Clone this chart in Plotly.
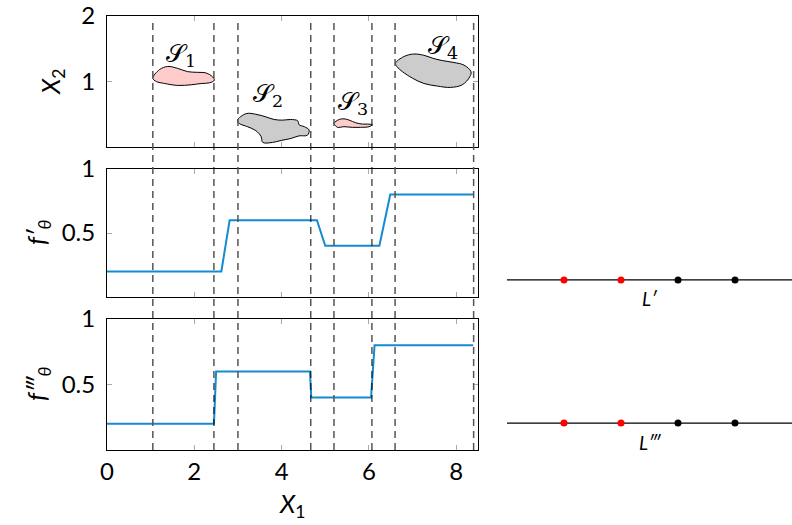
import plotly.graph_objects as go

# ---------------- data ----------------
x1_ticks = [0, 2, 4, 6, 8]
x2_ticks = [1, 2]
f_ticks = [0.5, 1]

# region boundaries (dashed lines)
bounds_gray = [1.05, 3.0, 5.2, 6.6, 8.4]
bounds_black = [2.45, 4.67, 6.07]

# blob outlines (X1, X2)
s1_x = [1.05, 1.20, 1.39, 1.62, 1.85, 2.08, 2.27, 2.42, 2.46, 2.35, 2.16, 1.93, 1.62, 1.32, 1.13]
s1_y = [1.05, 1.18, 1.23, 1.20, 1.15, 1.14, 1.13, 1.07, 1.02, 0.98, 0.97, 0.95, 0.94, 0.97, 1.00]
s2_x = [2.99, 3.19, 3.41, 3.64, 3.83, 4.02, 4.21, 4.37, 4.40, 4.52, 4.63, 4.59, 4.40, 4.21, 3.99, 3.79, 3.57, 3.53, 3.41, 3.22, 3.03]
s2_y = [0.41, 0.51, 0.50, 0.46, 0.42, 0.41, 0.42, 0.40, 0.34, 0.31, 0.26, 0.18, 0.17, 0.13, 0.10, 0.07, 0.07, 0.16, 0.25, 0.31, 0.36]
s3_x = [5.20, 5.32, 5.43, 5.55, 5.70, 5.85, 5.97, 6.08, 6.00, 5.81, 5.62, 5.43, 5.28, 5.23]
s3_y = [0.36, 0.42, 0.43, 0.41, 0.37, 0.35, 0.35, 0.34, 0.31, 0.30, 0.30, 0.31, 0.30, 0.33]
s4_x = [6.61, 6.80, 7.03, 7.26, 7.49, 7.68, 7.95, 8.18, 8.34, 8.31, 8.14, 7.87, 7.57, 7.26, 7.00, 6.77, 6.64]
s4_y = [1.28, 1.38, 1.42, 1.40, 1.35, 1.32, 1.29, 1.25, 1.15, 1.07, 0.95, 0.91, 0.93, 0.97, 1.05, 1.15, 1.23]
blob_colors = ["#ffcccc", "#cccccc", "#ffcccc", "#cccccc"]
blob_labels = ["1", "2", "3", "4"]
label_x = [1.70, 3.69, 5.63, 7.69]
label_y = [1.40, 0.79, 0.67, 1.53]

# step functions
fp_x = [0, 2.62, 2.81, 4.81, 5.00, 6.24, 6.49, 8.39]
fp_y = [0.2, 0.2, 0.6, 0.6, 0.4, 0.4, 0.8, 0.8]
fppp_x = [0, 2.45, 2.50, 4.65, 4.68, 6.05, 6.13, 8.39]
fppp_y = [0.2, 0.2, 0.6, 0.6, 0.4, 0.4, 0.8, 0.8]

# right side orderings
order_pos = [1, 2, 3, 4]
order_colors = ["red", "red", "black", "black"]
row_y = [1, 0]
row_labels = ["L′", "L‴"]
line_span = [0, 5]

# ---------------- figure ----------------
FONT = "Lato"
BLUE = "rgb(22,138,208)"
fig = go.Figure()

blobs = [(s1_x, s1_y), (s2_x, s2_y), (s3_x, s3_y), (s4_x, s4_y)]
for (bx, by), col in zip(blobs, blob_colors):
    fig.add_trace(go.Scatter(x=bx + [bx[0]], y=by + [by[0]], mode="lines", fill="toself",
                             fillcolor=col, line=dict(color="black", width=1, shape="spline", smoothing=1),
                             xaxis="x", yaxis="y", showlegend=False, hoverinfo="skip"))

fig.add_trace(go.Scatter(x=fp_x, y=fp_y, mode="lines", line=dict(color=BLUE, width=2),
                         xaxis="x2", yaxis="y2", showlegend=False))
fig.add_trace(go.Scatter(x=fppp_x, y=fppp_y, mode="lines", line=dict(color=BLUE, width=2),
                         xaxis="x3", yaxis="y3", showlegend=False))

for ry in row_y:
    fig.add_trace(go.Scatter(x=line_span, y=[ry, ry], mode="lines", line=dict(color="black", width=1.3),
                             xaxis="x4", yaxis="y4", showlegend=False))
    fig.add_trace(go.Scatter(x=order_pos, y=[ry] * len(order_pos), mode="markers",
                             marker=dict(color=order_colors, size=7, line=dict(width=0)),
                             xaxis="x4", yaxis="y4", showlegend=False, cliponaxis=False))

W, H = 792, 525
def py(p):
    return 1 - p / H

dash_top, dash_bot = py(18), py(450)
shapes = []
for b in bounds_gray:
    shapes.append(dict(type="line", xref="x3", yref="paper", x0=b, x1=b, y0=dash_bot, y1=dash_top,
                       line=dict(color="#555555", width=1.5, dash="7px,5px")))
for b in bounds_black:
    shapes.append(dict(type="line", xref="x3", yref="paper", x0=b, x1=b, y0=dash_bot, y1=dash_top,
                       line=dict(color="black", width=1, dash="7px,5px")))

annotations = []
for lx, ly, lab in zip(label_x, label_y, blob_labels):
    annotations.append(dict(x=lx, y=ly, xref="x", yref="y", showarrow=False, xanchor="center", yanchor="middle",
                            text="𝒮<sub>" + lab + "</sub>", font=dict(family="DejaVu Serif", size=25, color="black")))
for ry, lab in zip(row_y, row_labels):
    annotations.append(dict(x=2.5, y=ry, xref="x4", yref="y4", showarrow=False, yshift=-19,
                            xanchor="center", yanchor="middle",
                            text="<i>" + lab + "</i>", font=dict(family=FONT, size=19, color="black")))

title_font = dict(family=FONT, size=25, color="black")
annotations += [
    dict(x=52 / W, y=py(82), xref="paper", yref="paper", showarrow=False, textangle=-90,
         xanchor="center", yanchor="middle", text="<i>X</i><sub>2</sub>", font=title_font),
    dict(x=38 / W, y=py(232), xref="paper", yref="paper", showarrow=False, textangle=-90,
         xanchor="center", yanchor="middle", text="<i>f′</i><sub><i>θ</i></sub>", font=title_font),
    dict(x=38 / W, y=py(384), xref="paper", yref="paper", showarrow=False, textangle=-90,
         xanchor="center", yanchor="middle", text="<i>f‴</i><sub><i>θ</i></sub>", font=title_font),
    dict(x=292 / W, y=py(505), xref="paper", yref="paper", showarrow=False,
         xanchor="center", yanchor="middle", text="<i>X</i><sub>1</sub>", font=title_font),
]

xdom = [107 / W, 478 / W]
tickfont = dict(family=FONT, size=24, color="black")
common_x = dict(domain=xdom, range=[0, 8.5], showline=True, linecolor="black", linewidth=1, mirror="allticks",
                ticks="inside", ticklen=5, tickcolor="#aaaaaa", tickvals=x1_ticks, showgrid=False,
                zeroline=False, tickfont=tickfont, automargin=False)
common_y = dict(showline=True, linecolor="black", linewidth=1, mirror="allticks", ticks="inside", ticklen=5,
                tickcolor="#aaaaaa", showgrid=False, zeroline=False, tickfont=tickfont, ticklabelstandoff=6,
                automargin=False)

fig.update_layout(
    width=W, height=H, margin=dict(l=0, r=0, t=0, b=0),
    plot_bgcolor="white", paper_bgcolor="white",
    xaxis=dict(**common_x, anchor="y", showticklabels=False),
    yaxis=dict(**common_y, domain=[py(147), py(16)], range=[0, 2], tickvals=x2_ticks, anchor="x"),
    xaxis2=dict(**common_x, anchor="y2", showticklabels=False, matches="x"),
    yaxis2=dict(**common_y, domain=[py(297), py(169)], range=[0, 1], tickvals=f_ticks, ticktext=["0.5", "1"], anchor="x2"),
    xaxis3=dict(**common_x, anchor="y3", matches="x"),
    yaxis3=dict(**common_y, domain=[py(450), py(319)], range=[0, 1], tickvals=f_ticks, ticktext=["0.5", "1"], anchor="x3"),
    xaxis4=dict(domain=[507 / W, 1.0], range=line_span, visible=False, anchor="y4", automargin=False),
    yaxis4=dict(domain=[py(466), py(237)], range=[-0.3, 1.3], visible=False, anchor="x4", automargin=False),
    shapes=shapes, annotations=annotations,
)

fig.write_html("out.html")
